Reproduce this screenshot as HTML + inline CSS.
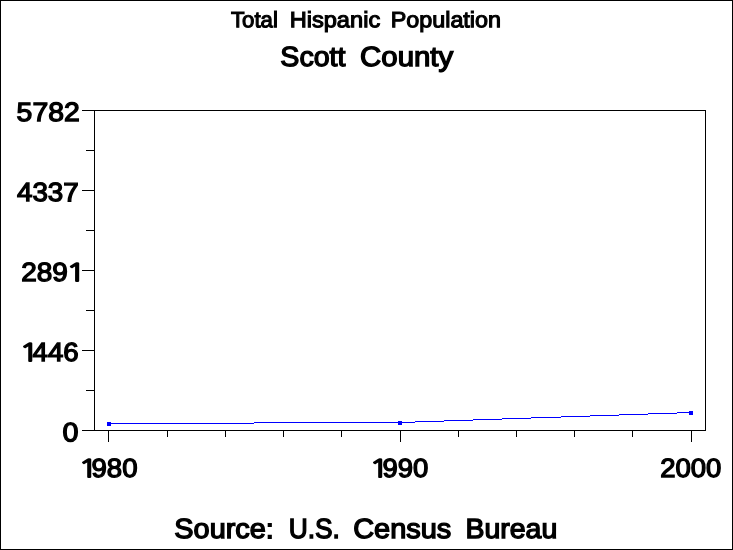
<!DOCTYPE html>
<html lang="en"><head><meta charset="utf-8"><title>Total Hispanic Population - Scott County</title>
<style>
html,body{margin:0;padding:0;background:#fff;}
body{width:733px;height:550px;overflow:hidden;}
#chart{position:relative;width:733px;height:550px;box-sizing:border-box;border:1px solid #000;background:#fff;font-family:"Liberation Sans",Arial,Helvetica,sans-serif;color:#000;overflow:hidden;}
#in{position:absolute;left:-1px;top:-1px;width:733px;height:550px;}
.l{position:absolute;}
.t{position:absolute;left:0;top:0;}
.w{position:absolute;left:0;top:0;display:block;white-space:pre;line-height:1;transform-origin:0 0;}
.w26{-webkit-text-stroke:1.3px #000;}
.w21{-webkit-text-stroke:1.05px #000;}
.w i{display:inline-block;font-style:normal;font-family:"NanumGothic","IPAGothic","Liberation Sans",sans-serif;-webkit-text-stroke:1.45px #000;width:9.1px;transform-origin:0 100%;transform:translate(-3.5px,0px) scale(1.19,0.936);}
</style></head><body>
<div id="chart"><div id="in">
<div class="l" style="left:94px;top:110px;width:612px;height:1px;background:#000"></div>
<div class="l" style="left:94px;top:430px;width:612px;height:1px;background:#000"></div>
<div class="l" style="left:94px;top:110px;width:1px;height:321px;background:#000"></div>
<div class="l" style="left:705px;top:110px;width:1px;height:321px;background:#000"></div>
<div class="l" style="left:82px;top:110px;width:12px;height:1px;background:#000"></div>
<div class="l" style="left:82px;top:190px;width:12px;height:1px;background:#000"></div>
<div class="l" style="left:82px;top:270px;width:12px;height:1px;background:#000"></div>
<div class="l" style="left:82px;top:350px;width:12px;height:1px;background:#000"></div>
<div class="l" style="left:82px;top:430px;width:12px;height:1px;background:#000"></div>
<div class="l" style="left:86px;top:150px;width:8px;height:1px;background:#000"></div>
<div class="l" style="left:86px;top:230px;width:8px;height:1px;background:#000"></div>
<div class="l" style="left:86px;top:310px;width:8px;height:1px;background:#000"></div>
<div class="l" style="left:86px;top:390px;width:8px;height:1px;background:#000"></div>
<div class="l" style="left:108px;top:430px;width:1px;height:12px;background:#000"></div>
<div class="l" style="left:167px;top:430px;width:1px;height:7px;background:#000"></div>
<div class="l" style="left:225px;top:430px;width:1px;height:7px;background:#000"></div>
<div class="l" style="left:283px;top:430px;width:1px;height:7px;background:#000"></div>
<div class="l" style="left:341px;top:430px;width:1px;height:7px;background:#000"></div>
<div class="l" style="left:400px;top:430px;width:1px;height:12px;background:#000"></div>
<div class="l" style="left:458px;top:430px;width:1px;height:7px;background:#000"></div>
<div class="l" style="left:516px;top:430px;width:1px;height:7px;background:#000"></div>
<div class="l" style="left:574px;top:430px;width:1px;height:7px;background:#000"></div>
<div class="l" style="left:632px;top:430px;width:1px;height:7px;background:#000"></div>
<div class="l" style="left:691px;top:430px;width:1px;height:12px;background:#000"></div>
<div class="l" style="left:108px;top:423px;width:146px;height:1px;background:#0000ff"></div>
<div class="l" style="left:254px;top:422px;width:147px;height:1px;background:#0000ff"></div>
<div class="l" style="left:400px;top:422px;width:15px;height:1px;background:#0000ff"></div>
<div class="l" style="left:415px;top:421px;width:29px;height:1px;background:#0000ff"></div>
<div class="l" style="left:444px;top:420px;width:29px;height:1px;background:#0000ff"></div>
<div class="l" style="left:473px;top:419px;width:29px;height:1px;background:#0000ff"></div>
<div class="l" style="left:502px;top:418px;width:29px;height:1px;background:#0000ff"></div>
<div class="l" style="left:531px;top:417px;width:30px;height:1px;background:#0000ff"></div>
<div class="l" style="left:561px;top:416px;width:29px;height:1px;background:#0000ff"></div>
<div class="l" style="left:590px;top:415px;width:29px;height:1px;background:#0000ff"></div>
<div class="l" style="left:619px;top:414px;width:29px;height:1px;background:#0000ff"></div>
<div class="l" style="left:648px;top:413px;width:29px;height:1px;background:#0000ff"></div>
<div class="l" style="left:677px;top:412px;width:15px;height:1px;background:#0000ff"></div>
<div class="l" style="left:107px;top:422px;width:4px;height:4px;background:#0000ff"></div>
<div class="l" style="left:398px;top:421px;width:4px;height:4px;background:#0000ff"></div>
<div class="l" style="left:689px;top:411px;width:4px;height:4px;background:#0000ff"></div>
<div class="t"><span class="w w21" id="w_total" style="font-size:21px;transform:translate(231.00px,8.08px) scale(1.0565,1.0602) rotate(0.05deg);">Total</span> <span class="w w21" id="w_hisp" style="font-size:21px;transform:translate(289.65px,8.08px) scale(1.1244,1.0602) rotate(0.05deg);">Hispanic</span> <span class="w w21" id="w_pop" style="font-size:21px;transform:translate(390.71px,8.08px) scale(1.1113,1.0602) rotate(0.05deg);">Population</span></div>
<div class="t"><span class="w w26" id="w_scott" style="font-size:26px;transform:translate(280.38px,42.61px) scale(1.0989,1.0628) rotate(0.05deg);">Scott</span> <span class="w w26" id="w_county" style="font-size:26px;transform:translate(360.14px,42.61px) scale(1.1303,1.0628) rotate(0.05deg);">County</span></div>
<div class="t"><span class="w w26" id="w_source" style="font-size:26px;transform:translate(174.35px,514.61px) scale(1.1105,1.0656) rotate(0.05deg);">Source:</span> <span class="w w26" id="w_us" style="font-size:26px;transform:translate(288.71px,514.61px) scale(1.0113,1.0656) rotate(0.05deg);">U.S.</span> <span class="w w26" id="w_census" style="font-size:26px;transform:translate(353.21px,514.61px) scale(1.1128,1.0656) rotate(0.05deg);">Census</span> <span class="w w26" id="w_bureau" style="font-size:26px;transform:translate(465.47px,514.61px) scale(1.0951,1.0656) rotate(0.05deg);">Bureau</span></div>
<div class="t"><span class="w w26" id="y5782" style="font-size:26px;transform:translate(16.64px,98.63px) scale(1.0902,1.0185) rotate(0.05deg);">5782</span></div>
<div class="t"><span class="w w26" id="y4337" style="font-size:26px;transform:translate(17.00px,178.82px) scale(1.0680,1.0126) rotate(0.05deg);">4337</span></div>
<div class="t"><span class="w w26" id="y2891" style="font-size:26px;transform:translate(21.29px,258.67px) scale(1.0753,1.0145) rotate(0.05deg);">289<i style="margin-left:1.2px">1</i></span></div>
<div class="t"><span class="w w26" id="y1446" style="font-size:26px;transform:translate(22.90px,338.73px) scale(1.0618,1.0119) rotate(0.05deg);"><i>1</i>446</span></div>
<div class="t"><span class="w w26" id="y0" style="font-size:26px;transform:translate(62.54px,418.71px) scale(1.1045,1.0210) rotate(0.05deg);">0</span></div>
<div class="t"><span class="w w26" id="x1980" style="font-size:26px;transform:translate(81.92px,454.67px) scale(1.0597,1.0147) rotate(0.05deg);"><i>1</i>980</span></div>
<div class="t"><span class="w w26" id="x1990" style="font-size:26px;transform:translate(372.95px,454.69px) scale(1.0565,1.0138) rotate(0.05deg);"><i>1</i>990</span></div>
<div class="t"><span class="w w26" id="x2000" style="font-size:26px;transform:translate(660.30px,454.61px) scale(1.0565,1.0171) rotate(0.05deg);">2000</span></div>
</div></div>
</body></html>
